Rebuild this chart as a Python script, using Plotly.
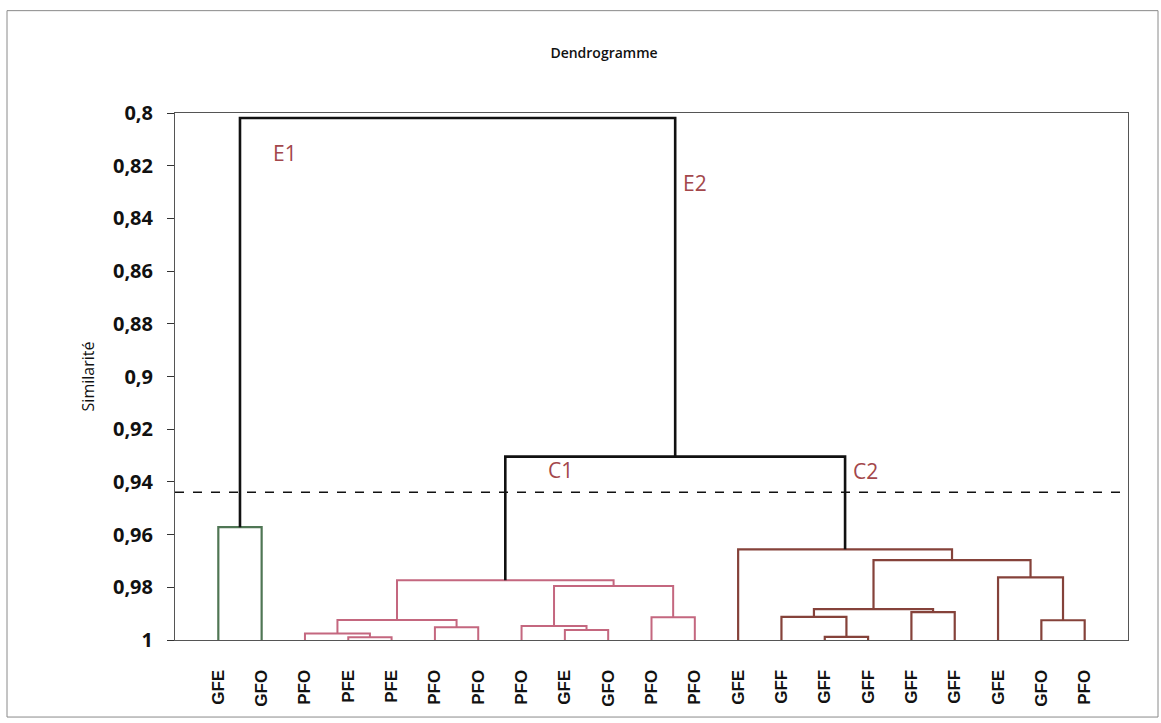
import plotly.graph_objects as go

# Leaves, left to right
leaf_labels = ["GFE", "GFO", "PFO", "PFE", "PFE", "PFO", "PFO", "PFO", "GFE", "GFO", "PFO",
               "PFO", "GFE", "GFF", "GFF", "GFF", "GFF", "GFF", "GFE", "GFO", "PFO"]

# Agglomeration steps: node k (k >= number of leaves) is created by step k - n_leaves
merge_left = [3, 14, 8, 2, 5, 7, 24, 10, 19, 13, 16, 30, 26, 27, 18, 32, 12, 0, 34, 38]
merge_right = [4, 15, 9, 21, 6, 23, 25, 11, 20, 22, 17, 31, 28, 33, 29, 35, 36, 1, 37, 39]
merge_level = [0.9990, 0.9988, 0.9962, 0.9975, 0.9952, 0.9947, 0.9924, 0.9914, 0.9925, 0.9912,
               0.9894, 0.9883, 0.9795, 0.9773, 0.9762, 0.9697, 0.9656, 0.9572, 0.9304, 0.8019]
merge_group = ["C1", "C2", "C1", "C1", "C1", "C1", "C1", "C1", "C2", "C2",
               "C2", "C2", "C1", "C1", "C2", "C2", "C2", "G", "T", "T"]

cut_level = 0.9439

y_ticks = [0.8, 0.82, 0.84, 0.86, 0.88, 0.9, 0.92, 0.94, 0.96, 0.98, 1.0]
y_tick_text = ["0,8", "0,82", "0,84", "0,86", "0,88", "0,9", "0,92", "0,94", "0,96", "0,98", "1"]

group_colors = {"C1": "#c4677f", "C2": "#85423a", "G": "#4f7654", "T": "#111111"}
group_widths = {"C1": 2, "C2": 2.2, "G": 2.2, "T": 2.6}

# Node coordinates: leaves sit at similarity 1, merged nodes at the midpoint of their children
n_leaves = len(leaf_labels)
node_x = list(range(n_leaves))
node_y = [1.0] * n_leaves
segments = {g: ([], []) for g in group_colors}
for a, b, h, g in zip(merge_left, merge_right, merge_level, merge_group):
    xa, ya, xb, yb = node_x[a], node_y[a], node_x[b], node_y[b]
    xs, ys = segments[g]
    xs += [xa, xa, xb, xb, None]
    ys += [ya, h, h, yb, None]
    node_x.append((xa + xb) / 2)
    node_y.append(h)

fig = go.Figure()
for g in ["C1", "C2", "G", "T"]:
    xs, ys = segments[g]
    fig.add_trace(go.Scatter(x=xs, y=ys, mode="lines", showlegend=False, hoverinfo="skip",
                             line=dict(color=group_colors[g], width=group_widths[g])))

# Truncation level
fig.add_shape(type="line", xref="paper", x0=0, x1=1, yref="y", y0=cut_level, y1=cut_level,
              line=dict(color="#111111", width=1.6, dash="dash"))

# Class labels
label_color = "#a3474b"
for txt, x, y in [("E1", 1.55, 0.8151), ("E2", 11.0, 0.8265), ("C1", 7.9, 0.9355), ("C2", 14.95, 0.9360)]:
    fig.add_annotation(x=x, y=y, text=txt, showarrow=False,
                       font=dict(family="Open Sans", size=21, color=label_color))

# Outer chart frame
fig.add_shape(type="rect", xref="paper", yref="paper",
              x0=(7 - 175) / 953, x1=(1158 - 175) / 953,
              y0=(640 - 717) / 526.7, y1=(640 - 11) / 526.7,
              line=dict(color="#8a8a8a", width=1), layer="below")

fig.update_layout(
    width=1161, height=723,
    margin=dict(l=175, r=33, t=113, b=83),
    paper_bgcolor="white", plot_bgcolor="white",
    title=dict(text="Dendrogramme", x=604 / 1161, xanchor="center", xref="container",
               y=1 - 53 / 723, yanchor="middle", yref="container",
               font=dict(family="Open Sans", size=14, color="#111111", weight=600)),
    xaxis=dict(range=[-1, 21], tickvals=list(range(n_leaves)), ticktext=leaf_labels,
               tickangle=-90, showgrid=False, zeroline=False, ticks="",
               showline=True, mirror=True, linecolor="#555555", linewidth=1,
               ticklabelstandoff=22,
               tickfont=dict(family="Liberation Sans", size=17, color="#111111", weight="bold")),
    yaxis=dict(range=[1.0, 0.8], tickvals=y_ticks, ticktext=y_tick_text,
               showgrid=False, zeroline=False, ticks="outside", ticklen=7,
               tickcolor="#333333", showline=True, mirror=True, linecolor="#555555",
               linewidth=1, ticklabelstandoff=10,
               tickfont=dict(family="Open Sans", size=20, color="#111111", weight="bold"),
               title=dict(text="Similarité", standoff=14,
                          font=dict(family="Open Sans", size=16, color="#111111"))),
)

fig.write_html("out.html")
